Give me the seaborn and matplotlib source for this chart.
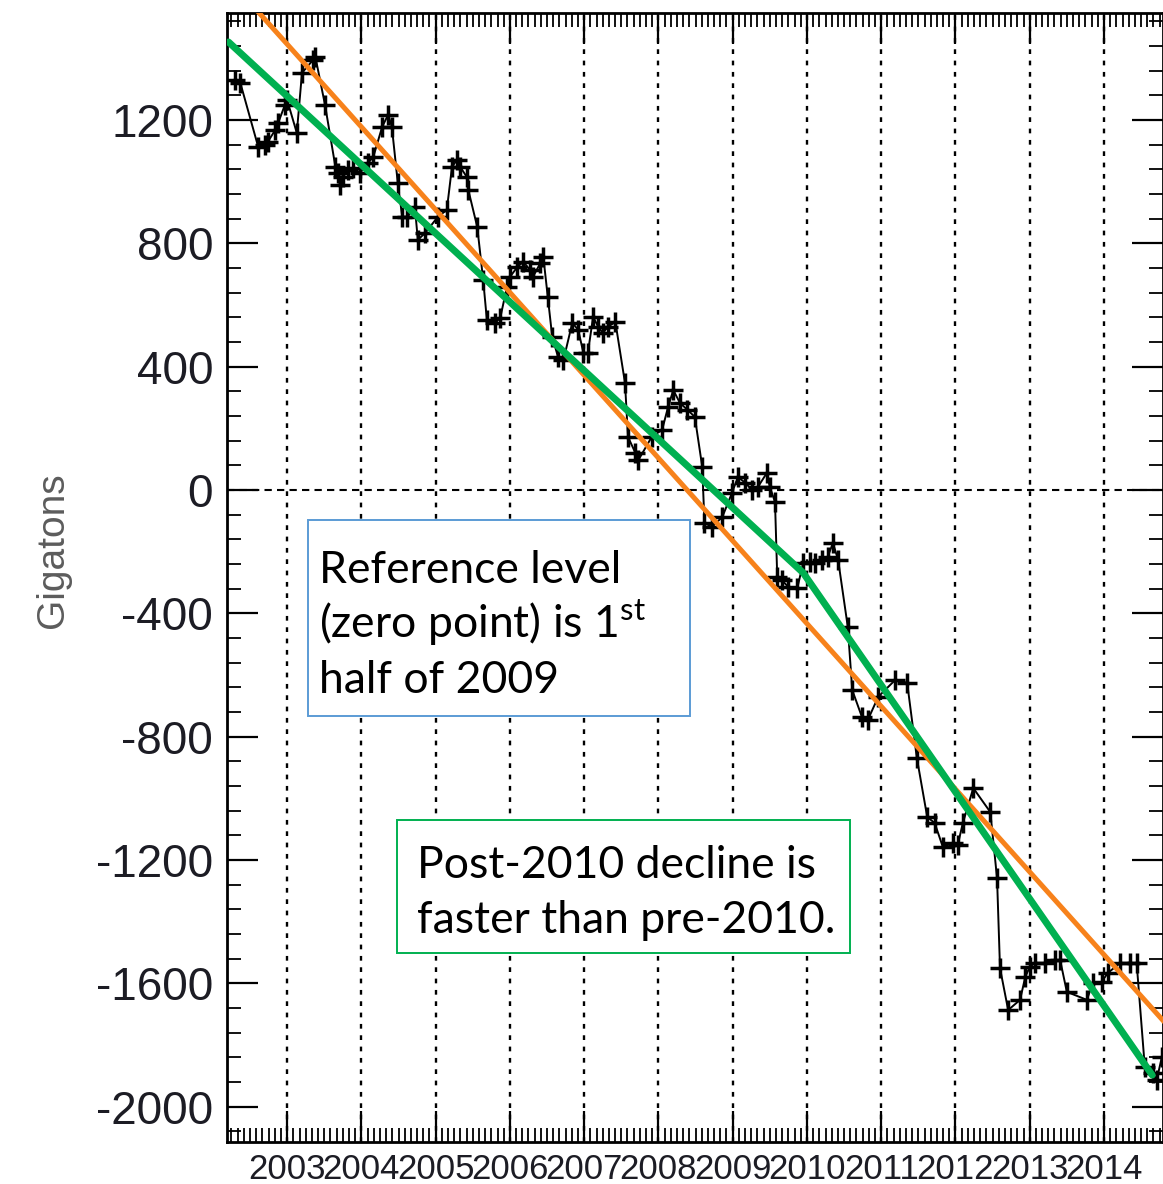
import matplotlib
matplotlib.use("Agg")
import matplotlib.pyplot as plt
from matplotlib.ticker import MultipleLocator, FixedLocator
from matplotlib.patches import Rectangle
import seaborn as sns

# Ice mass anomaly (Gt), decimal year
years = [
    2002.30, 2002.37, 2002.61, 2002.70, 2002.74, 2002.84, 2002.88, 2002.97, 2003.00, 2003.13,
    2003.20, 2003.35, 2003.38, 2003.51, 2003.65, 2003.69, 2003.71, 2003.75, 2003.82, 2003.89,
    2003.98, 2004.09, 2004.16, 2004.28, 2004.36, 2004.41, 2004.49, 2004.55, 2004.62, 2004.72,
    2004.76, 2004.86, 2005.03, 2005.15, 2005.22, 2005.29, 2005.33, 2005.42, 2005.44, 2005.56,
    2005.64, 2005.69, 2005.80, 2005.87, 2005.96, 2006.00, 2006.10, 2006.18, 2006.27, 2006.31,
    2006.41, 2006.45, 2006.51, 2006.57, 2006.65, 2006.72, 2006.84, 2006.92, 2006.99, 2007.05,
    2007.12, 2007.19, 2007.25, 2007.32, 2007.42, 2007.55, 2007.59, 2007.69, 2007.73, 2007.91,
    2008.05, 2008.13, 2008.20, 2008.29, 2008.39, 2008.49, 2008.59, 2008.62, 2008.72, 2008.86,
    2008.99, 2009.07, 2009.17, 2009.26, 2009.34, 2009.46, 2009.50, 2009.57, 2009.60, 2009.66,
    2009.75, 2009.87, 2009.95, 2010.04, 2010.11, 2010.20, 2010.28, 2010.35, 2010.42, 2010.55,
    2010.61, 2010.74, 2010.82, 2010.96, 2011.19, 2011.35, 2011.48, 2011.62, 2011.72, 2011.83,
    2011.97, 2012.03, 2012.10, 2012.24, 2012.47, 2012.56, 2012.60, 2012.71, 2012.87, 2012.94,
    2013.00, 2013.07, 2013.21, 2013.34, 2013.41, 2013.50, 2013.77, 2013.85, 2013.97, 2014.05,
    2014.22, 2014.35, 2014.44, 2014.55, 2014.66, 2014.71, 2014.78,
]
gigatons = [
    1330, 1320, 1113, 1119, 1129, 1168, 1191, 1249, 1265, 1158,
    1353, 1395, 1405, 1249, 1048, 1028, 989, 1015, 1038, 1045,
    1028, 1061, 1080, 1178, 1217, 1178, 996, 886, 886, 918,
    811, 834, 886, 908, 1048, 1071, 1048, 1015, 973, 853,
    681, 551, 542, 558, 659, 691, 723, 740, 714, 691,
    736, 756, 626, 496, 430, 420, 542, 519, 444, 444,
    561, 529, 509, 529, 545, 347, 172, 120, 97, 172,
    195, 269, 324, 282, 260, 237, 75, -107, -120, -88,
    -10, 42, 23, 0, 10, 55, 10, -39, -282, -292,
    -315, -318, -237, -234, -237, -227, -217, -172, -227, -444,
    -649, -736, -746, -671, -616, -626, -869, -1061, -1080, -1158,
    -1145, -1152, -1080, -967, -1045, -1259, -1551, -1687, -1654, -1580,
    -1547, -1534, -1534, -1525, -1525, -1628, -1654, -1599, -1596, -1567,
    -1534, -1534, -1534, -1872, -1891, -1914, -1839,
]

# Single linear trend over the whole record
trend_years = [2002.40, 2014.90]
trend_gt = [1607, -1749]

# Two-segment trend with a break at the start of 2010
piecewise_years = [2002.21, 2009.95, 2014.65]
piecewise_gt = [1453, -269, -1898]

year_ticks = list(range(2003, 2015))
gt_ticks = [-2000, -1600, -1200, -800, -400, 0, 400, 800, 1200]

note_reference = ["Reference level", "(zero point) is 1$^{\\mathrm{st}}$", "half of 2009"]
note_decline = ["Post-2010 decline is", "faster than pre-2010."]

sns.set_theme(style="white")
plt.rcParams["font.family"] = ["Liberation Sans", "DejaVu Sans"]
plt.rcParams["mathtext.fontset"] = "custom"
plt.rcParams["mathtext.rm"] = "Lato"

W, H = 1163, 1184
fig = plt.figure(figsize=(W / 100, H / 100), dpi=100)


def fx(px):
    return px / W


def fy(py):
    return 1 - py / H


ax = fig.add_axes([fx(227), fy(1141.7), fx(1163) - fx(227), fy(13) - fy(1141.7)])

# Year grid and zero reference line
for yr in year_ticks:
    ax.axvline(yr, color="black", lw=1.7, ls=(0, (2.0, 2.8)), zorder=1)
ax.axhline(0, color="black", lw=1.5, ls=(0, (3.5, 2.5)), zorder=1)

sns.lineplot(x=years, y=gigatons, ax=ax, color="black", lw=1.4, marker="+",
             markersize=15, mec="black", mew=2.5, sort=False, estimator=None, zorder=3)
sns.lineplot(x=trend_years, y=trend_gt, ax=ax, color="#F7821B", lw=3.6,
             sort=False, estimator=None, zorder=4)
sns.lineplot(x=piecewise_years, y=piecewise_gt, ax=ax, color="#00B050", lw=5.0,
             sort=False, estimator=None, zorder=5)

ax.set_xlim(2002.19, 2014.795)
ax.set_ylim(-2114, 1547)
ax.xaxis.set_major_locator(FixedLocator(year_ticks))
ax.xaxis.set_minor_locator(MultipleLocator(1 / 12))
ax.yaxis.set_major_locator(FixedLocator(gt_ticks))
ax.yaxis.set_minor_locator(MultipleLocator(80))
ax.set_xticklabels([str(y) for y in year_ticks])
ax.set_yticklabels([str(v) for v in gt_ticks])

ax.tick_params(which="both", direction="in", top=True, right=True, bottom=True, left=True,
               colors="black", labelcolor="#1c1c24")
ax.tick_params(which="major", length=22, width=1.6)
ax.tick_params(which="minor", length=10, width=1.3)
ax.tick_params(axis="x", which="major", labelsize=25, pad=8)
ax.tick_params(axis="y", which="major", labelsize=33, pad=10)
for sp in ax.spines.values():
    sp.set_visible(True)
    sp.set_color("black")
    sp.set_linewidth(2.0)
ax.set_xlabel("")
ax.set_ylabel("")

fig.text(fx(53), fy(550), "Gigatons", rotation=90, ha="center", va="center",
         fontsize=28, color="#5c5c5c")

# Annotation boxes
box1 = Rectangle((fx(308), fy(716)), fx(690) - fx(308), fy(520) - fy(716),
                 transform=fig.transFigure, facecolor="white", edgecolor="#5B9BD5",
                 lw=1.4, zorder=10)
box2 = Rectangle((fx(397), fy(953)), fx(850) - fx(397), fy(820) - fy(953),
                 transform=fig.transFigure, facecolor="white", edgecolor="#00B050",
                 lw=1.4, zorder=10)
fig.add_artist(box1)
fig.add_artist(box2)

for i, line in enumerate(note_reference):
    fig.text(fx(319), fy(583 + 55 * i), line, fontsize=32, family=["Lato", "DejaVu Sans"],
             color="black", va="baseline", ha="left", zorder=11)
for i, line in enumerate(note_decline):
    fig.text(fx(417), fy(878 + 55 * i), line, fontsize=32, family=["Lato", "DejaVu Sans"],
             color="black", va="baseline", ha="left", zorder=11)

fig.savefig("out.png", dpi=100)
